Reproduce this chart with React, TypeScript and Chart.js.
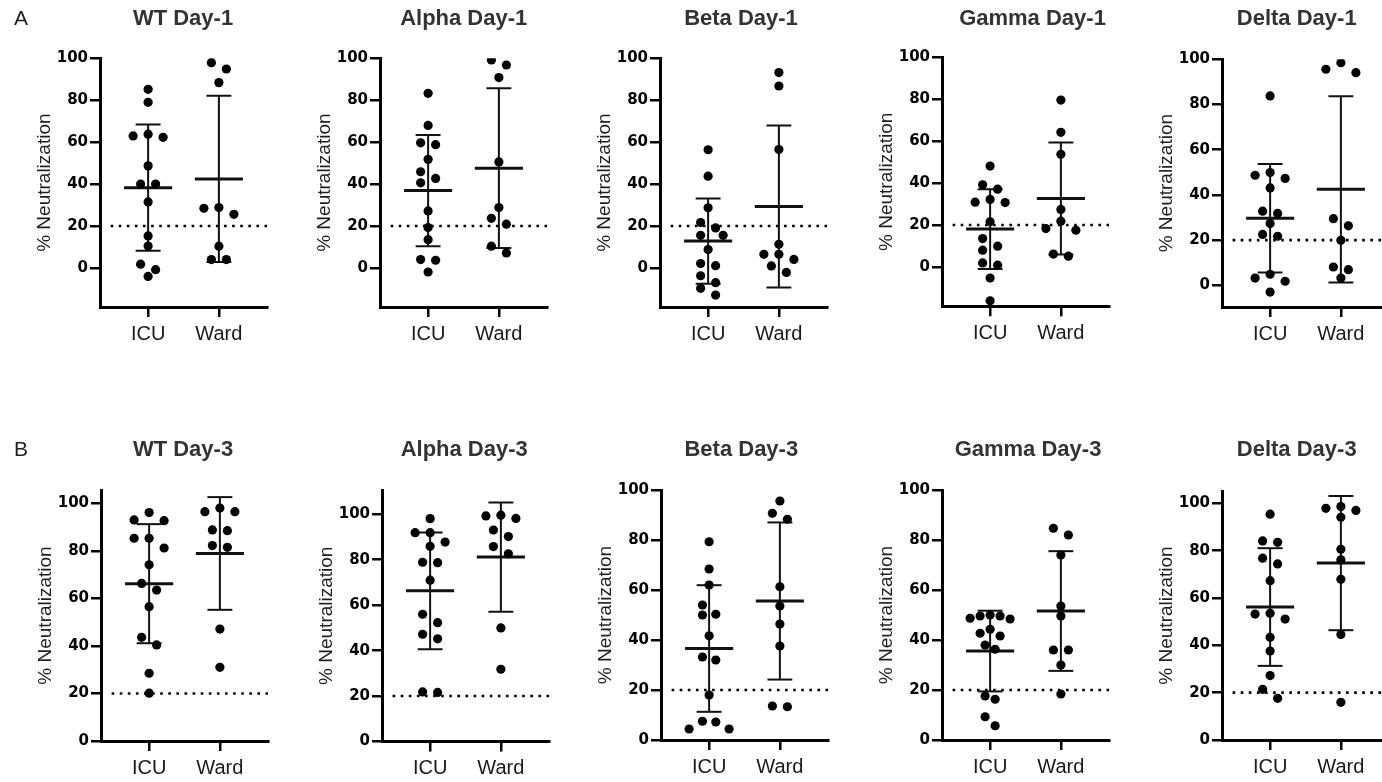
import React, { useEffect, useRef } from 'react';
import { Chart, registerables } from 'chart.js';

Chart.register(...registerables);

// ---------------- data ----------------
const GROUPS = ['ICU', 'Ward'];
const Y_TICKS = [0, 20, 40, 60, 80, 100];
const THRESHOLD = 20;
const Y_TITLE = '% Neutralization';

// Day-1
const WT_D1_ICU = [85.2, 79.0, 63.8, 63.0, 62.3, 48.7, 40.0, 40.0, 31.5, 15.3, 10.5, 1.8, -0.8, -4.0];
const WT_D1_WARD = [97.9, 94.9, 88.4, 28.8, 28.5, 25.6, 10.4, 4.0, 4.0];
const ALPHA_D1_ICU = [83.3, 68.0, 59.7, 58.8, 51.8, 45.9, 42.7, 40.6, 27.2, 19.3, 13.5, 4.0, 3.7, -1.9];
const ALPHA_D1_WARD = [99.2, 96.8, 90.8, 50.6, 28.8, 23.7, 20.9, 10.4, 7.2];
const BETA_D1_ICU = [56.4, 43.8, 28.7, 21.7, 19.1, 15.6, 15.6, 8.8, 2.1, 1.1, -3.7, -7.0, -9.7, -12.9];
const BETA_D1_WARD = [93.2, 86.8, 56.5, 11.3, 6.5, 6.5, 4.1, 1.0, -2.1];
const GAMMA_D1_ICU = [48.1, 39.2, 37.1, 32.2, 30.9, 30.7, 21.5, 13.5, 9.9, 8.0, 1.9, 0.8, -5.3, -16.2];
const GAMMA_D1_WARD = [79.6, 64.2, 53.7, 27.4, 21.8, 18.3, 17.5, 6.1, 5.1];
const DELTA_D1_ICU = [83.8, 49.9, 48.7, 47.3, 43.1, 32.8, 31.8, 27.3, 22.5, 21.7, 4.9, 3.2, 1.8, -3.0];
const DELTA_D1_WARD = [98.5, 95.6, 94.1, 29.5, 26.3, 19.9, 8.1, 6.9, 3.2];

// Day-3
const WT_D3_ICU = [96.1, 93.0, 92.7, 85.3, 85.3, 81.2, 74.1, 66.3, 63.5, 56.5, 43.6, 40.4, 28.5, 20.1];
const WT_D3_WARD = [98.0, 96.5, 96.5, 88.8, 88.5, 82.2, 81.5, 47.1, 31.0];
const ALPHA_D3_ICU = [98.1, 91.9, 91.9, 87.8, 85.9, 78.9, 78.7, 71.0, 56.0, 52.3, 47.2, 45.2, 21.8, 21.6];
const ALPHA_D3_WARD = [99.6, 99.3, 98.2, 93.1, 90.2, 85.8, 82.6, 50.0, 31.8];
const BETA_D3_ICU = [79.3, 68.4, 62.0, 54.0, 50.3, 50.0, 41.7, 33.2, 32.0, 18.0, 7.5, 7.2, 4.4, 4.4];
const BETA_D3_WARD = [95.6, 90.7, 88.3, 61.3, 53.6, 46.4, 37.6, 13.6, 13.3];
const GAMMA_D3_ICU = [50.0, 49.6, 49.6, 48.7, 48.4, 44.3, 42.7, 41.6, 38.0, 36.3, 17.6, 16.3, 9.3, 5.7];
const GAMMA_D3_WARD = [84.7, 82.0, 74.0, 53.6, 49.6, 36.0, 36.0, 30.0, 18.4];
const DELTA_D3_ICU = [95.4, 84.1, 83.5, 76.8, 74.4, 67.3, 53.5, 53.2, 51.1, 43.4, 37.6, 27.2, 21.4, 17.6];
const DELTA_D3_WARD = [98.6, 97.9, 97.0, 94.1, 80.6, 76.1, 67.9, 44.6, 15.9];

// ---------------- layout ----------------
const X_MIN = -0.68;
const X_MAX = 1.68;
const PLOT_W = 167;
const AXIS_BOX = 100;
const PAD_RIGHT = 10;
const X_AXIS_H = 40;
const PX_PER_X = PLOT_W / (X_MAX - X_MIN);
const MEAN_HALF = 0.34;
const CAP_HALF = 0.176;
const LETTER_X = 21;

const ROWS = [
  { top: 0, height: 352, titleY: 17.5, letter: 'A' },
  { top: 425, height: 357, titleY: 448.5, letter: 'B' },
];

type PanelDef = {
  title: string; icu: number[]; ward: number[]; row: number; first?: boolean;
  axisX: number; plotTop: number; plotBottom: number; yMin: number; yMax: number; titleX: number;
};

const PANELS: PanelDef[] = [
  { title: 'WT Day-1', icu: WT_D1_ICU, ward: WT_D1_WARD, row: 0, first: true, axisX: 100, plotTop: 58.3, plotBottom: 307, yMin: -18.6, yMax: 100, titleX: 183 },
  { title: 'Alpha Day-1', icu: ALPHA_D1_ICU, ward: ALPHA_D1_WARD, row: 0, axisX: 380, plotTop: 58.3, plotBottom: 307, yMin: -18.6, yMax: 100, titleX: 463.7 },
  { title: 'Beta Day-1', icu: BETA_D1_ICU, ward: BETA_D1_WARD, row: 0, axisX: 660, plotTop: 58.3, plotBottom: 307, yMin: -18.6, yMax: 100, titleX: 741 },
  { title: 'Gamma Day-1', icu: GAMMA_D1_ICU, ward: GAMMA_D1_WARD, row: 0, axisX: 941.5, plotTop: 57.3, plotBottom: 306.3, yMin: -18.8, yMax: 100, titleX: 1032 },
  { title: 'Delta Day-1', icu: DELTA_D1_ICU, ward: DELTA_D1_WARD, row: 0, axisX: 1222, plotTop: 59.3, plotBottom: 307, yMin: -9.6, yMax: 100, titleX: 1296.7 },
  { title: 'WT Day-3', icu: WT_D3_ICU, ward: WT_D3_WARD, row: 1, first: true, axisX: 101, plotTop: 490, plotBottom: 741, yMin: 0, yMax: 105.6, titleX: 183 },
  { title: 'Alpha Day-3', icu: ALPHA_D3_ICU, ward: ALPHA_D3_WARD, row: 1, axisX: 381.5, plotTop: 490, plotBottom: 741.5, yMin: 0, yMax: 110.7, titleX: 463.7 },
  { title: 'Beta Day-3', icu: BETA_D3_ICU, ward: BETA_D3_WARD, row: 1, axisX: 661, plotTop: 490, plotBottom: 740, yMin: 0, yMax: 100, titleX: 741.3 },
  { title: 'Gamma Day-3', icu: GAMMA_D3_ICU, ward: GAMMA_D3_WARD, row: 1, axisX: 942, plotTop: 490, plotBottom: 740, yMin: 0, yMax: 100, titleX: 1028 },
  { title: 'Delta Day-3', icu: DELTA_D3_ICU, ward: DELTA_D3_WARD, row: 1, axisX: 1222, plotTop: 491, plotBottom: 740, yMin: 0, yMax: 105.2, titleX: 1296.7 },
];

// ---------------- helpers ----------------
const mean = (a: number[]) => a.reduce((s, v) => s + v, 0) / a.length;
const sd = (a: number[]) => {
  const m = mean(a);
  return Math.sqrt(a.reduce((s, v) => s + (v - m) * (v - m), 0) / (a.length - 1));
};

// beeswarm-like horizontal spread of points (in x data units)
function swarm(values: number[], pxPerY: number): number[] {
  const D = 10;
  const order = values.map((_, i) => i).sort((a, b) => values[b] - values[a]);
  const rows: number[][] = [];
  let cur: number[] = [];
  for (const i of order) {
    if (cur.length && (values[cur[0]] - values[i]) * pxPerY >= D) {
      rows.push(cur);
      cur = [];
    }
    cur.push(i);
  }
  if (cur.length) rows.push(cur);
  const maxN = Math.max(...rows.map((r) => r.length));
  const step = maxN > 3 ? 40 / (maxN - 1) : 15;
  const offs = values.map(() => 0);
  const placed: [number, number][] = [];
  const free = (px: number, py: number) =>
    placed.every(([qx, qy]) => Math.hypot(qx - px, qy - py) >= D - 1);
  for (const r of rows) {
    const n = r.length;
    const slots = Array.from({ length: n }, (_, k) => (k - (n - 1) / 2) * step).sort(
      (a, b) => Math.abs(a) - Math.abs(b) || a - b
    );
    r.forEach((i, k) => {
      const py = values[i] * pxPerY;
      let px = slots[k];
      if (!free(px, py)) {
        search: for (let m = 1; m <= 8; m++) {
          for (const s of [-1, 1]) {
            const c = slots[k] + (s * m * step) / 2;
            if (free(c, py)) {
              px = c;
              break search;
            }
          }
        }
      }
      placed.push([px, py]);
      offs[i] = px / PX_PER_X;
    });
  }
  return offs;
}

const seg = (pts: [number, number][], w: number) => ({
  data: pts.map(([x, y]) => ({ x, y })),
  showLine: true,
  pointRadius: 0,
  borderColor: '#111',
  borderWidth: w,
  borderCapStyle: 'butt',
  fill: false,
});

function buildConfig(p: PanelDef): any {
  const row = ROWS[p.row];
  const left = p.axisX - AXIS_BOX;
  const pxPerY = (p.plotBottom - p.plotTop) / (p.yMax - p.yMin);
  const groups = [p.icu, p.ward];
  const datasets: any[] = [];
  groups.forEach((vals, c) => {
    const offs = swarm(vals, pxPerY);
    datasets.push({
      data: vals.map((v, i) => ({ x: c + offs[i], y: v })),
      pointRadius: 4.6,
      pointBackgroundColor: '#000',
      pointBorderWidth: 0,
      showLine: false,
    });
  });
  groups.forEach((vals, c) => {
    const m = mean(vals);
    const s = sd(vals);
    datasets.push(seg([[c - MEAN_HALF, m], [c + MEAN_HALF, m]], 3));
    datasets.push(seg([[c, m - s], [c, m + s]], 2));
    datasets.push(seg([[c - CAP_HALF, m + s], [c + CAP_HALF, m + s]], 2));
    datasets.push(seg([[c - CAP_HALF, m - s], [c + CAP_HALF, m - s]], 2));
  });
  datasets.push({
    data: [{ x: X_MIN + 0.15, y: THRESHOLD }, { x: X_MAX, y: THRESHOLD }],
    showLine: true,
    pointRadius: 0,
    borderColor: '#000',
    borderWidth: 2.6,
    borderDash: [2.6, 5.5],
    borderCapStyle: 'butt',
    fill: false,
  });

  const textPlugin = {
    id: 'panelText',
    afterDraw(chart: any) {
      const ctx = chart.ctx;
      ctx.save();
      ctx.textBaseline = 'alphabetic';
      ctx.textAlign = 'center';
      ctx.fillStyle = '#333';
      ctx.font = 'bold 22px "Liberation Sans", Arial, sans-serif';
      ctx.fillText(p.title, p.titleX - left, row.titleY - row.top + 0.358 * 22);
      if (p.first) {
        ctx.fillStyle = '#222';
        ctx.font = '21px "Liberation Sans", Arial, sans-serif';
        ctx.fillText(row.letter, LETTER_X - left, row.titleY - row.top + 0.358 * 21);
      }
      ctx.restore();
    },
  };

  const gridOpts = (len: number) => ({
    display: true,
    drawOnChartArea: false,
    drawTicks: true,
    tickLength: len,
    color: '#000',
    lineWidth: 2.5,
  });
  const borderOpts = { display: true, color: '#000', width: 3 };

  return {
    type: 'scatter',
    data: { datasets },
    options: {
      animation: false,
      responsive: false,
      devicePixelRatio: 1,
      events: [],
      layout: {
        padding: {
          left: 0,
          right: PAD_RIGHT,
          top: p.plotTop - row.top,
          bottom: row.height - (p.plotBottom - row.top) - X_AXIS_H,
        },
      },
      plugins: { legend: { display: false }, tooltip: { enabled: false }, title: { display: false } },
      scales: {
        x: {
          type: 'linear',
          min: X_MIN,
          max: X_MAX,
          afterBuildTicks: (s: any) => {
            s.ticks = GROUPS.map((_, i) => ({ value: i }));
          },
          afterFit: (s: any) => {
            s.height = X_AXIS_H;
          },
          ticks: {
            callback: (_v: any, i: number) => GROUPS[i],
            font: { family: '"Liberation Sans", Arial, sans-serif', size: 20 },
            color: '#1a1a1a',
            padding: 5,
            maxRotation: 0,
            autoSkip: false,
          },
          grid: gridOpts(10),
          border: borderOpts,
        },
        y: {
          type: 'linear',
          min: p.yMin,
          max: p.yMax,
          afterBuildTicks: (s: any) => {
            s.ticks = Y_TICKS.map((v) => ({ value: v }));
          },
          afterFit: (s: any) => {
            s.width = AXIS_BOX;
          },
          ticks: {
            font: { family: '"DejaVu Sans", sans-serif', size: 15, weight: 'bold' },
            color: '#000',
            padding: 2,
            autoSkip: false,
          },
          grid: gridOpts(10),
          border: borderOpts,
          title: {
            display: true,
            text: Y_TITLE,
            font: { family: '"Liberation Sans", Arial, sans-serif', size: 19 },
            color: '#1f1f1f',
            padding: { top: 33.6, bottom: 0 },
          },
        },
      },
    },
    plugins: [textPlugin],
  };
}

function Panel({ p }: { p: PanelDef }) {
  const ref = useRef<HTMLCanvasElement>(null);
  const row = ROWS[p.row];
  const width = AXIS_BOX + PLOT_W + PAD_RIGHT;
  useEffect(() => {
    if (!ref.current) return;
    const chart = new Chart(ref.current, buildConfig(p));
    return () => chart.destroy();
  }, [p]);
  return (
    <canvas
      ref={ref}
      width={width}
      height={row.height}
      style={{
        position: 'absolute',
        left: p.axisX - AXIS_BOX,
        top: row.top,
        width,
        height: row.height,
      }}
    />
  );
}

export default function App() {
  return (
    <div
      style={{
        position: 'absolute',
        left: 0,
        top: 0,
        width: 1382,
        height: 782,
        overflow: 'hidden',
        background: '#fff',
      }}
    >
      {PANELS.map((p) => (
        <Panel key={p.title} p={p} />
      ))}
    </div>
  );
}
